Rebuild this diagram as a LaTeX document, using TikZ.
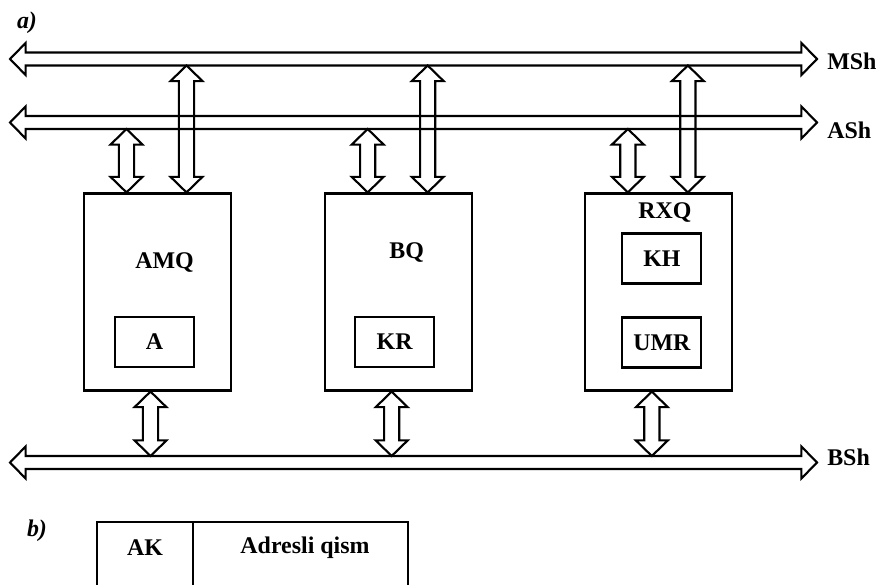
\documentclass[tikz,border=0pt]{standalone}
\usepackage{fontspec}
\setmainfont{Liberation Serif}
\usetikzlibrary{calc,positioning}
\newcommand\headhw{0.4cm}
\newcommand\headlen{0.39cm}
\newcommand\busw{0.1625cm}
\newcommand\linkw{0.19cm}
% bus: hollow two-headed horizontal arrow between two coordinates
\newcommand\busline[2]{\draw[hollow] let \p1=(#1), \p2=(#2) in
 (\p1) -- ++(\headlen,\headhw) -- ++(0,{\busw-\headhw}) -- ({\x2-\headlen},{\y1+\busw}) -- ++(0,{\headhw-\busw}) -- (\p2)
 -- ++(-\headlen,-\headhw) -- ++(0,{\headhw-\busw}) -- ({\x1+\headlen},{\y1-\busw}) -- ++(0,{\busw-\headhw}) -- cycle;}
% link: hollow two-headed vertical arrow, top tip to bottom tip
\newcommand\vlink[2]{\draw[hollow] let \p1=(#1), \p2=(#2) in
 (\p1) -- ++(\headhw,-\headlen) -- ++({\linkw-\headhw},0) -- ({\x1+\linkw},{\y2+\headlen}) -- ++({\headhw-\linkw},0) -- (\x1,\y2)
 -- ++(-\headhw,\headlen) -- ++({\headhw-\linkw},0) -- ({\x1-\linkw},{\y1-\headlen}) -- ++({\linkw-\headhw},0) -- cycle;}

\begin{document}
\begin{tikzpicture}[x=0.025cm,y=-0.025cm,
 hollow/.style={draw=black,line width=1.5pt,line join=miter},
 unit/.style={draw,line width=1.5pt,minimum width=3.675cm,minimum height=4.925cm,inner sep=0pt},
 reg/.style={draw,line width=1.5pt,minimum width=1.975cm,minimum height=1.25cm,font=\fontsize{17}{19}\selectfont\bfseries,inner sep=0pt},
 lbl/.style={font=\fontsize{17}{19}\selectfont\bfseries,inner sep=0pt},
 part/.style={font=\fontsize{17}{19}\selectfont\bfseries\itshape,inner sep=0pt}]
 \useasboundingbox (0,0) rectangle (878,584);
 \node[part] (ta) at (27,23) {a)};
 % buses
 \coordinate (msh-w) at (10,59); \coordinate (msh-e) at (817,59);
 \coordinate (ash-w) at (10,122.5); \coordinate (ash-e) at (817,122.5);
 \coordinate (bsh-w) at (10,462.5); \coordinate (bsh-e) at (817,462.5);
 \coordinate (msh-s) at ([yshift=-\busw]msh-w);
 \coordinate (ash-s) at ([yshift=-\busw]ash-w);
 \coordinate (bsh-n) at ([yshift=\busw]bsh-w);
 \busline{msh-w}{msh-e}\busline{ash-w}{ash-e}\busline{bsh-w}{bsh-e}
 \node[lbl,anchor=west] (msh) at ([xshift=0.25cm,yshift=-0.07cm]msh-e) {MSh};
 \node[lbl,anchor=west] (ash) at ([xshift=0.25cm,yshift=-0.2cm]ash-e) {ASh};
 \node[lbl,anchor=west] (bsh) at ([xshift=0.25cm,yshift=0.14cm]bsh-e) {BSh};
 % units
 \node[unit] (amq) at (157.5,292) {};
 \node[unit,right=2.3cm of amq] (bq) {};
 \node[unit,right=2.775cm of bq] (rxq) {};
 \node[lbl] (amq-t) at ($(amq.center)+(7,-29)$) {AMQ};
 \node[reg] (a) at ($(amq.center)+(-3,50)$) {A};
 \node[lbl] (bq-t) at ($(bq.center)+(8,-39)$) {BQ};
 \node[reg] (kr) at ($(bq.center)+(-4,50)$) {KR};
 \node[lbl] (rxq-t) at ($(rxq.center)+(6,-79)$) {RXQ};
 \node[reg] (kh) at ($(rxq.center)+(3,-33.5)$) {KH};
 \node[reg] (umr) at ($(rxq.center)+(3,50.5)$) {UMR};
 % links to buses
 \foreach \u in {amq,bq,rxq}{
  \coordinate (\u-a) at ($(\u.north)+(-31,0)$);
  \coordinate (\u-m) at ($(\u.north)+(29,0)$);
  \coordinate (\u-d) at ($(\u.south)+(-7,0)$);
  \vlink{\u-a |- ash-s}{\u-a}
  \vlink{\u-m |- msh-s}{\u-m}
  \vlink{\u-d}{\u-d |- bsh-n}
 }
 % instruction format
 \node[part] (tb) at (37,531) {b)};
 \node[lbl] (ak) at (145,548) {AK};
 \node[lbl] (adr) at (305,548) {Adresli qism};
 \draw[line width=1.5pt] (97,590) -- (97,522) -- (408,522) -- (408,590) (193,522) -- (193,590);
\end{tikzpicture}
\end{document}
